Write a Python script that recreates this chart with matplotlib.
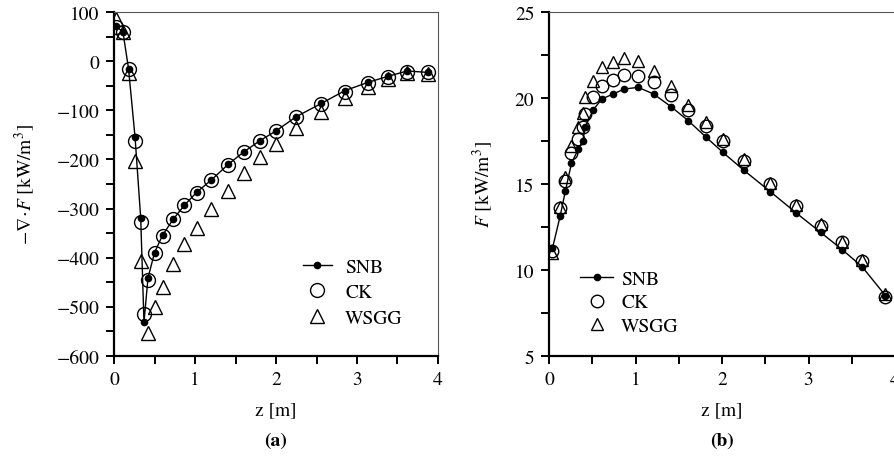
import matplotlib
matplotlib.use("Agg")
import matplotlib.pyplot as plt
import numpy as np

plt.rcParams["font.family"] = ["STIXGeneral", "DejaVu Serif"]
plt.rcParams["mathtext.fontset"] = "stix"

# axial positions [m]
z_a = [0.02, 0.11, 0.18, 0.26, 0.33, 0.37, 0.42, 0.50, 0.60, 0.73, 0.87, 1.02,
       1.20, 1.41, 1.60, 1.80, 2.00, 2.25, 2.56, 2.85, 3.14, 3.38, 3.62, 3.88]
z_b = [0.04, 0.13, 0.19, 0.26, 0.34, 0.39, 0.42, 0.51, 0.61, 0.74, 0.87, 1.03,
       1.21, 1.41, 1.61, 1.81, 2.01, 2.25, 2.56, 2.86, 3.14, 3.39, 3.62, 3.89]

# (a) -div F [kW/m3]
div_snb = [71, 60, -16, -155, -320, -531, -441, -390, -354, -322, -293, -267,
           -242, -210, -185, -162, -142, -113, -86, -60, -43, -31, -20, -23]
div_ck = [69, 60, -16, -162, -327, -515, -445, -390, -355, -322, -293, -268,
          -242, -212, -185, -163, -143, -113, -87, -62, -45, -33, -22, -22]
div_wsgg = [85, 60, -25, -203, -407, np.nan, -553, -500, -459, -413, -373, -339,
            -301, -264, -227, -196, -169, -137, -103, -75, -52, -37, -24, -26]

# (b) F [kW/m3]
f_snb = [11.26, 13.16, 14.61, 16.22, 17.03, 17.52, 18.33, 19.30, 19.94, 20.23,
         20.52, 20.62, 20.23, 19.50, 18.68, 17.75, 16.84, 15.81, 14.55, 13.31,
         12.19, 11.18, 10.19, 8.51]
f_ck = [11.12, 13.59, 15.15, 16.80, 17.62, 18.30, 19.07, 20.08, 20.68, 21.07,
        21.34, 21.30, 20.91, 20.17, 19.32, 18.39, 17.52, 16.36, 15.00, 13.74,
        12.58, 11.61, 10.54, 8.45]
f_wsgg = [11.00, 13.65, 15.40, 17.23, 18.30, 19.13, 20.04, 21.00, 21.78, 22.11,
          22.33, 22.17, 21.59, 20.68, 19.59, 18.62, 17.60, 16.45, 15.06, 13.78,
          12.67, 11.65, 10.60, 8.60]

FS = 14


def draw(ax, z, snb, ck, wsgg, ms_o):
    ax.plot(z, ck, "o", mfc="none", mec="black", ms=ms_o, mew=1.0, label="CK", zorder=2)
    ax.plot(z, wsgg, "^", mfc="none", mec="black", ms=ms_o, mew=1.0, label="WSGG", zorder=2)
    ax.plot(z, snb, "-o", color="black", lw=1.0, ms=4.5, label="SNB", zorder=3)
    for side in ("top", "right"):
        ax.spines[side].set_color("#555555")
        ax.spines[side].set_linewidth(0.8)
    for side in ("left", "bottom"):
        ax.spines[side].set_linewidth(1.6)
    ax.tick_params(which="both", direction="out", width=1.4, length=5.5,
                   labelsize=FS, pad=5)
    ax.set_xlim(0, 4)
    ax.set_xticks([0, 1, 2, 3, 4])
    ax.set_xticks(np.arange(0, 4.01, 0.5), minor=True)
    ax.set_xlabel("z [m]", fontsize=FS, labelpad=10)
    h, l = ax.get_legend_handles_labels()
    return [h[2], h[0], h[1]], [l[2], l[0], l[1]]


fig = plt.figure(figsize=(8.94, 4.6), dpi=100)
ax1 = fig.add_axes([114 / 894, 1 - 357 / 460, 324 / 894, 344 / 460])
ax2 = fig.add_axes([549 / 894, 1 - 357 / 460, 346 / 894, 344 / 460])

h, l = draw(ax1, z_a, div_snb, div_ck, div_wsgg, 10)
ax1.set_ylim(-600, 100)
ax1.set_yticks(np.arange(-600, 101, 100))
ax1.set_yticks(np.arange(-600, 101, 50), minor=True)
ax1.set_yticklabels([f"\u2212{abs(v)}" if v < 0 else str(v) for v in range(-600, 101, 100)])
ax1.set_ylabel(r"$-\nabla\!\cdot\! F$ [kW/m$^3$]", fontsize=FS, labelpad=14)
ax1.legend(h, l, loc="upper left", bbox_to_anchor=(0.528, 0.335), frameon=False,
           fontsize=FS, handlelength=1.5, labelspacing=0.4, handletextpad=0.7)
ax1.text(0.5, -0.245, "(a)", transform=ax1.transAxes, ha="center", va="center",
         fontsize=FS, fontweight="bold")

h, l = draw(ax2, z_b, f_snb, f_ck, f_wsgg, 9)
ax2.set_ylim(5, 25)
ax2.set_yticks([5, 10, 15, 20, 25])
ax2.set_yticks(np.arange(5, 25.1, 2.5), minor=True)
ax2.set_ylabel(r"$F$ [kW/m$^3$]", fontsize=FS, labelpad=14)
ax2.legend(h, l, loc="upper left", bbox_to_anchor=(0.04, 0.3), frameon=False,
           fontsize=FS, handlelength=1.7, labelspacing=0.3, handletextpad=0.4)
ax2.text(0.5, -0.245, "(b)", transform=ax2.transAxes, ha="center", va="center",
         fontsize=FS, fontweight="bold")

fig.savefig("out.png", dpi=100)
